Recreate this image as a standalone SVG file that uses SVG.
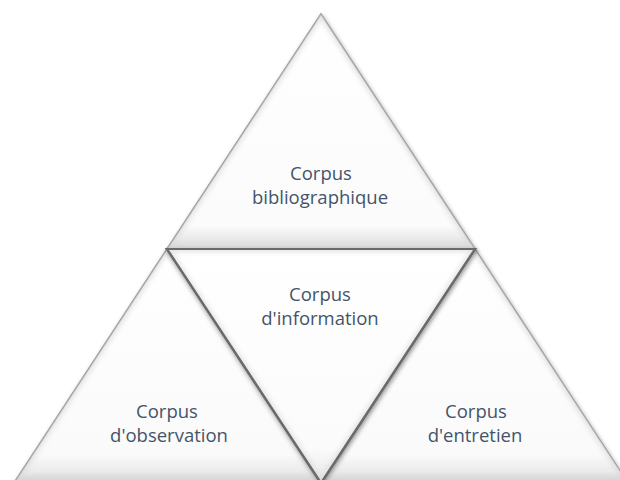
<svg xmlns="http://www.w3.org/2000/svg" width="620" height="480" viewBox="0 0 620 480">
  <style>
    .lbl { font-family: "Open Sans", "Liberation Sans", sans-serif; font-size: 18.5px; fill: #44546A; text-anchor: middle; }
    .outer { stroke: #9a9a9a; stroke-width: 1.6; stroke-linejoin: miter; }
    .inner { stroke: #6a6a6a; stroke-width: 2.2; stroke-linejoin: miter; }
    .bevel { fill: none; stroke: #d8d8d8; stroke-width: 6; opacity: 0.7; }
  </style>
  <defs>
    <filter id="shadow" x="-10%" y="-10%" width="120%" height="120%">
      <feGaussianBlur in="SourceAlpha" stdDeviation="2"/>
      <feOffset dx="1" dy="2" result="b"/>
      <feComponentTransfer><feFuncA type="linear" slope="0.35"/></feComponentTransfer>
      <feMerge><feMergeNode/><feMergeNode in="SourceGraphic"/></feMerge>
    </filter>
    <filter id="soft" x="-10%" y="-10%" width="120%" height="120%">
      <feGaussianBlur stdDeviation="2.5"/>
    </filter>
    <linearGradient id="gTop" gradientUnits="userSpaceOnUse" x1="0" y1="14" x2="0" y2="249">
      <stop offset="0" stop-color="#ffffff"/>
      <stop offset="0.9" stop-color="#fbfbfb"/>
      <stop offset="0.95" stop-color="#ececec"/>
      <stop offset="1" stop-color="#d9d9d9"/>
    </linearGradient>
    <linearGradient id="gBot" gradientUnits="userSpaceOnUse" x1="0" y1="249" x2="0" y2="483">
      <stop offset="0" stop-color="#ffffff"/>
      <stop offset="0.88" stop-color="#fafafa"/>
      <stop offset="0.95" stop-color="#ebebeb"/>
      <stop offset="1" stop-color="#cfcfcf"/>
    </linearGradient>
    <linearGradient id="gInv" gradientUnits="userSpaceOnUse" x1="0" y1="249" x2="0" y2="483">
      <stop offset="0" stop-color="#ffffff"/>
      <stop offset="0.85" stop-color="#fbfbfb"/>
      <stop offset="1" stop-color="#e6e6e6"/>
    </linearGradient>
    <clipPath id="cTop"><polygon points="321,14 167,249 475,249"/></clipPath>
    <clipPath id="cBL"><polygon points="167,249 14,483 320,483"/></clipPath>
    <clipPath id="cBR"><polygon points="475,249 322,483 628,483"/></clipPath>
    <clipPath id="cInv"><polygon points="167,249 475,249 321,483"/></clipPath>
  </defs>
  <rect width="620" height="480" fill="#ffffff"/>

  <g id="node-observation">
    <polygon points="167,249 14,483 320,483" fill="url(#gBot)" class="outer" filter="url(#shadow)"/>
    <polygon points="167,249 14,483 320,483" class="bevel" clip-path="url(#cBL)" filter="url(#soft)"/>
    <text class="lbl" x="167" y="418">Corpus</text>
    <text class="lbl" x="169" y="442">d'observation</text>
  </g>

  <g id="node-entretien">
    <polygon points="475,249 322,483 628,483" fill="url(#gBot)" class="outer" filter="url(#shadow)"/>
    <polygon points="475,249 322,483 628,483" class="bevel" clip-path="url(#cBR)" filter="url(#soft)"/>
    <text class="lbl" x="476" y="418">Corpus</text>
    <text class="lbl" x="475" y="442">d'entretien</text>
  </g>

  <g id="node-bibliographique">
    <polygon points="321,14 167,249 475,249" fill="url(#gTop)" class="outer" filter="url(#shadow)"/>
    <polygon points="321,14 167,249 475,249" class="bevel" clip-path="url(#cTop)" filter="url(#soft)"/>
    <text class="lbl" x="321" y="180">Corpus</text>
    <text class="lbl" x="320" y="204">bibliographique</text>
  </g>

  <g id="node-information">
    <polygon points="167,249 475,249 321,483" fill="url(#gInv)" class="inner" filter="url(#shadow)"/>
    <polygon points="167,249 475,249 321,483" class="bevel" clip-path="url(#cInv)" filter="url(#soft)"/>
    <polygon points="167,249 475,249 321,483" fill="none" class="inner"/>
    <text class="lbl" x="320" y="301">Corpus</text>
    <text class="lbl" x="320" y="325">d'information</text>
  </g>
</svg>
